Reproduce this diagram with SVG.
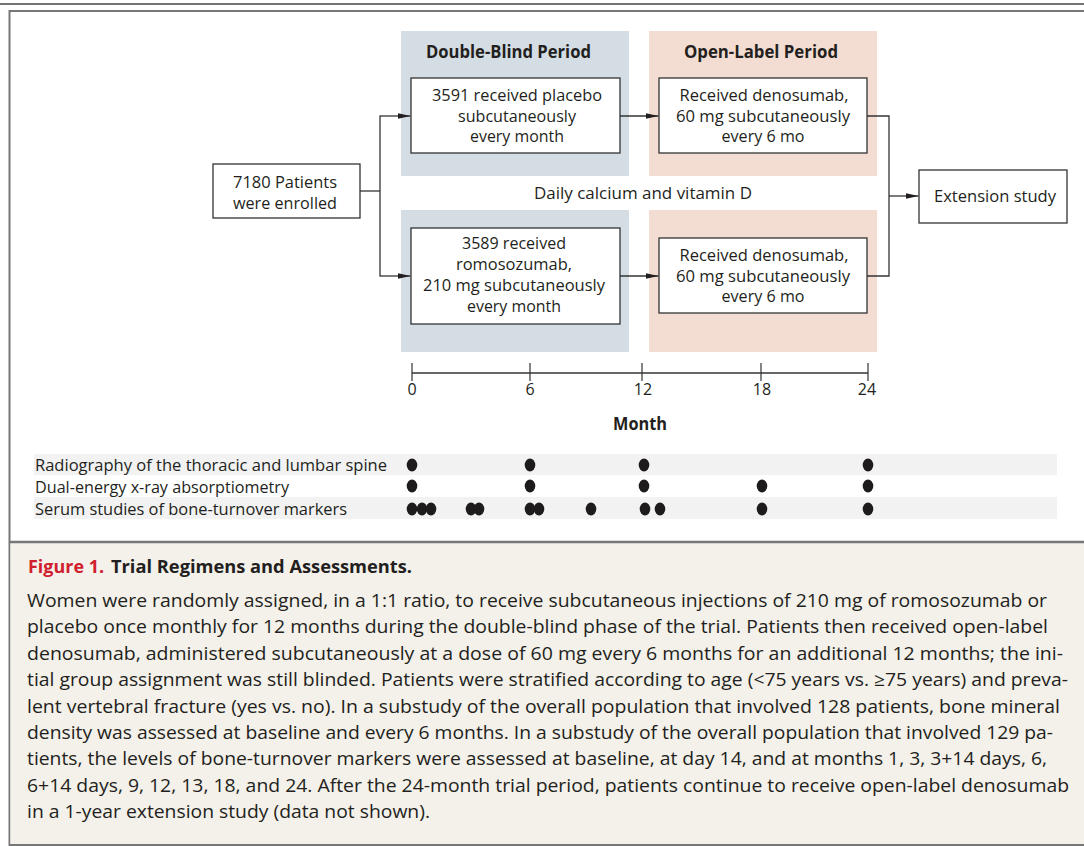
<svg xmlns="http://www.w3.org/2000/svg" width="1084" height="846" viewBox="0 0 1084 846">
<defs>
<style>
text{font-family:"Open Sans","Liberation Sans",sans-serif;fill:#231f20}
.b{font-size:15.5px;text-anchor:middle}
.h{font-size:17.5px;font-weight:bold;text-anchor:middle}
.ax{font-size:16px;text-anchor:middle}
.lab{font-size:16px}
.cap{font-size:18px}
.box{fill:#fff;stroke:#333;stroke-width:1.3}
.ln{fill:none;stroke:#333;stroke-width:1.3}
.dot{fill:#1e1b1c}
</style>
<marker id="ar" markerWidth="13" markerHeight="8" refX="13" refY="4" orient="auto" markerUnits="userSpaceOnUse">
<path d="M0,1.2 L13,4 L0,6.8 Z" fill="#231f20"/>
</marker>
</defs>
<rect width="1084" height="846" fill="#fff"/>
<line x1="0" y1="4" x2="1084" y2="4" stroke="#444" stroke-width="1.5"/>
<rect x="9.5" y="11" width="1090" height="834" fill="#fff" stroke="#777" stroke-width="2"/>
<rect x="10.5" y="543" width="1080" height="301" fill="#f4f1ea"/>
<line x1="9.5" y1="542" x2="1084" y2="542" stroke="#777" stroke-width="2.5"/>

<g id="panels">
<rect x="401" y="31" width="228" height="145" fill="#d4dde4"/>
<rect x="401" y="210" width="228" height="142" fill="#d4dde4"/>
<rect x="649" y="31" width="228" height="145" fill="#f3ddd2"/>
<rect x="649" y="210" width="228" height="142" fill="#f3ddd2"/>
<text class="h" x="508.5" y="58" textLength="165" lengthAdjust="spacingAndGlyphs">Double-Blind Period</text>
<text class="h" x="761" y="58" textLength="154" lengthAdjust="spacingAndGlyphs">Open-Label Period</text>
<text class="b" x="643" y="199" textLength="218" lengthAdjust="spacingAndGlyphs">Daily calcium and vitamin D</text>
</g>

<g id="connectors">
<line class="ln" x1="360" y1="191" x2="380" y2="191"/>
<line class="ln" x1="380" y1="115.4" x2="380" y2="276.6"/>
<line class="ln" x1="380" y1="116" x2="410.5" y2="116" marker-end="url(#ar)"/>
<line class="ln" x1="380" y1="276" x2="410.5" y2="276" marker-end="url(#ar)"/>
<line class="ln" x1="620" y1="116" x2="658.5" y2="116" marker-end="url(#ar)"/>
<line class="ln" x1="620" y1="276" x2="658.5" y2="276" marker-end="url(#ar)"/>
<polyline class="ln" points="867,116 889,116 889,276 867,276"/>
<line class="ln" x1="889" y1="196" x2="918.5" y2="196" marker-end="url(#ar)"/>
</g>

<g id="enrolled">
<rect class="box" x="213" y="164" width="147" height="54"/>
<text class="b" x="285" y="188" textLength="104" lengthAdjust="spacingAndGlyphs">7180 Patients</text>
<text class="b" x="285" y="209" textLength="104" lengthAdjust="spacingAndGlyphs">were enrolled</text>
</g>

<g id="placebo">
<rect class="box" x="411" y="78" width="209" height="75"/>
<text class="b" x="517" y="101" textLength="170" lengthAdjust="spacingAndGlyphs">3591 received placebo</text>
<text class="b" x="517" y="121.5" textLength="118" lengthAdjust="spacingAndGlyphs">subcutaneously</text>
<text class="b" x="517" y="142" textLength="94" lengthAdjust="spacingAndGlyphs">every month</text>
</g>

<g id="romosozumab">
<rect class="box" x="411" y="228" width="209" height="96"/>
<text class="b" x="514" y="249" textLength="104" lengthAdjust="spacingAndGlyphs">3589 received</text>
<text class="b" x="514" y="270" textLength="116" lengthAdjust="spacingAndGlyphs">romosozumab,</text>
<text class="b" x="514" y="291" textLength="182" lengthAdjust="spacingAndGlyphs">210 mg subcutaneously</text>
<text class="b" x="514" y="312" textLength="94" lengthAdjust="spacingAndGlyphs">every month</text>
</g>

<g id="denosumab-top">
<rect class="box" x="659" y="78" width="208" height="75"/>
<text class="b" x="764" y="100.5" textLength="169" lengthAdjust="spacingAndGlyphs">Received denosumab,</text>
<text class="b" x="763" y="121.5" textLength="174" lengthAdjust="spacingAndGlyphs">60 mg subcutaneously</text>
<text class="b" x="763" y="142" textLength="83" lengthAdjust="spacingAndGlyphs">every 6 mo</text>
</g>

<g id="denosumab-bottom">
<rect class="box" x="659" y="238" width="208" height="75"/>
<text class="b" x="764" y="260.5" textLength="169" lengthAdjust="spacingAndGlyphs">Received denosumab,</text>
<text class="b" x="763" y="281.5" textLength="174" lengthAdjust="spacingAndGlyphs">60 mg subcutaneously</text>
<text class="b" x="763" y="302" textLength="83" lengthAdjust="spacingAndGlyphs">every 6 mo</text>
</g>

<g id="extension">
<rect class="box" x="919" y="170" width="148" height="53"/>
<text class="b" x="995" y="202" textLength="122" lengthAdjust="spacingAndGlyphs">Extension study</text>
</g>

<g id="timeline">
<line x1="412" y1="373" x2="868" y2="373" stroke="#333" stroke-width="1.5"/>
<g stroke="#333" stroke-width="1.2">
<line x1="412" y1="363" x2="412" y2="381"/>
<line x1="530" y1="363" x2="530" y2="381"/>
<line x1="642" y1="363" x2="642" y2="381"/>
<line x1="761" y1="363" x2="761" y2="381"/>
<line x1="868" y1="363" x2="868" y2="381"/>
</g>
<text class="ax" x="412" y="395">0</text>
<text class="ax" x="530" y="395">6</text>
<text class="ax" x="643" y="395">12</text>
<text class="ax" x="762" y="395">18</text>
<text class="ax" x="867" y="395">24</text>
<text class="h" x="640" y="430" textLength="54" lengthAdjust="spacingAndGlyphs">Month</text>
</g>

<g id="assessments">
<rect x="34" y="454" width="1023" height="21" fill="#f2f2f2"/>
<rect x="34" y="497" width="1023" height="22" fill="#f2f2f2"/>
<text class="lab" x="35" y="471" textLength="352" lengthAdjust="spacingAndGlyphs">Radiography of the thoracic and lumbar spine</text>
<text class="lab" x="35" y="493" textLength="254" lengthAdjust="spacingAndGlyphs">Dual-energy x-ray absorptiometry</text>
<text class="lab" x="35" y="515" textLength="312" lengthAdjust="spacingAndGlyphs">Serum studies of bone-turnover markers</text>
<g class="dot">
<ellipse cx="412" cy="465" rx="5.3" ry="6.5"/>
<ellipse cx="530" cy="465" rx="5.3" ry="6.5"/>
<ellipse cx="644" cy="465" rx="5.3" ry="6.5"/>
<ellipse cx="868" cy="465" rx="5.3" ry="6.5"/>
<ellipse cx="412" cy="486" rx="5.3" ry="6.5"/>
<ellipse cx="530" cy="486" rx="5.3" ry="6.5"/>
<ellipse cx="644" cy="486" rx="5.3" ry="6.5"/>
<ellipse cx="762" cy="486" rx="5.3" ry="6.5"/>
<ellipse cx="868" cy="486" rx="5.3" ry="6.5"/>
<ellipse cx="412" cy="509" rx="5.3" ry="6.5"/>
<ellipse cx="422" cy="509" rx="5.3" ry="6.5"/>
<ellipse cx="431" cy="509" rx="5.3" ry="6.5"/>
<ellipse cx="471" cy="509" rx="5.3" ry="6.5"/>
<ellipse cx="479" cy="509" rx="5.3" ry="6.5"/>
<ellipse cx="530" cy="509" rx="5.3" ry="6.5"/>
<ellipse cx="539" cy="509" rx="5.3" ry="6.5"/>
<ellipse cx="591" cy="509" rx="5.3" ry="6.5"/>
<ellipse cx="645" cy="509" rx="5.3" ry="6.5"/>
<ellipse cx="660" cy="509" rx="5.3" ry="6.5"/>
<ellipse cx="762" cy="509" rx="5.3" ry="6.5"/>
<ellipse cx="868" cy="509" rx="5.3" ry="6.5"/>
</g>
</g>

<g id="caption">
<text class="cap" x="28" y="573" font-weight="bold"><tspan fill="#d0202e" textLength="76" lengthAdjust="spacingAndGlyphs">Figure 1.</tspan><tspan x="111" textLength="301" lengthAdjust="spacingAndGlyphs">Trial Regimens and Assessments.</tspan></text>
<text class="cap" x="27" y="607" textLength="1020" lengthAdjust="spacingAndGlyphs">Women were randomly assigned, in a 1:1 ratio, to receive subcutaneous injections of 210 mg of romosozumab or</text>
<text class="cap" x="27" y="633" textLength="1021" lengthAdjust="spacingAndGlyphs">placebo once monthly for 12 months during the double-blind phase of the trial. Patients then received open-label</text>
<text class="cap" x="27" y="660" textLength="1036" lengthAdjust="spacingAndGlyphs">denosumab, administered subcutaneously at a dose of 60 mg every 6 months for an additional 12 months; the ini-</text>
<text class="cap" x="27" y="686" textLength="1041" lengthAdjust="spacingAndGlyphs">tial group assignment was still blinded. Patients were stratified according to age (&lt;75 years vs. ≥75 years) and preva-</text>
<text class="cap" x="27" y="713" textLength="1033" lengthAdjust="spacingAndGlyphs">lent vertebral fracture (yes vs. no). In a substudy of the overall population that involved 128 patients, bone mineral</text>
<text class="cap" x="27" y="739" textLength="1026" lengthAdjust="spacingAndGlyphs">density was assessed at baseline and every 6 months. In a substudy of the overall population that involved 129 pa-</text>
<text class="cap" x="27" y="765" textLength="1020" lengthAdjust="spacingAndGlyphs">tients, the levels of bone-turnover markers were assessed at baseline, at day 14, and at months 1, 3, 3+14 days, 6,</text>
<text class="cap" x="27" y="792" textLength="1042" lengthAdjust="spacingAndGlyphs">6+14 days, 9, 12, 13, 18, and 24. After the 24-month trial period, patients continue to receive open-label denosumab</text>
<text class="cap" x="27" y="818" textLength="403" lengthAdjust="spacingAndGlyphs">in a 1-year extension study (data not shown).</text>
</g>
</svg>
